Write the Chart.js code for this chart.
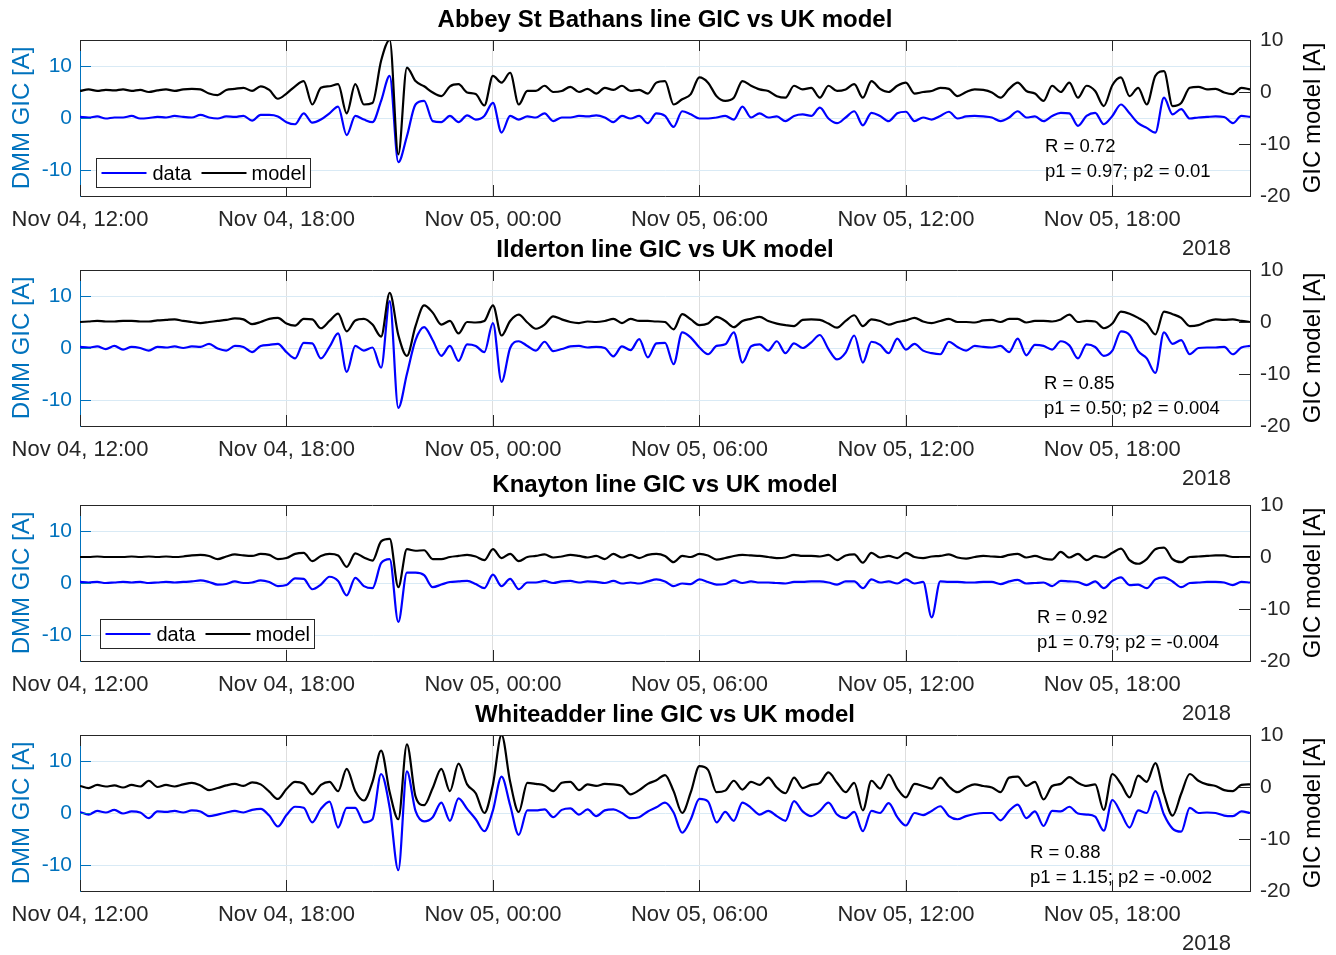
<!DOCTYPE html>
<html>
<head>
<meta charset="utf-8">
<script src="https://cdn.jsdelivr.net/npm/chart.js@4.4.0/dist/chart.umd.min.js"></script>
<style>
  html, body { margin: 0; padding: 0; background: #fff; overflow: hidden; }
  #wrap { position: relative; width: 1336px; height: 955px; }
  .panel { position: absolute; left: 0; width: 1336px; height: 262px; }
</style>
</head>
<body>
<div id="wrap"></div>
<script>
/* ── time axis: hours after Nov 04 12:00, 15-minute samples ── */
const STEP_H = 0.25;
const TIME_TICKS  = [0, 6, 12, 18, 24, 30];
const TIME_LABELS = ['Nov 04, 12:00', 'Nov 04, 18:00', 'Nov 05, 00:00', 'Nov 05, 06:00', 'Nov 05, 12:00', 'Nov 05, 18:00'];
const LEFT_TICKS  = [-10, 0, 10];
const RIGHT_TICKS = [-20, -10, 0, 10];

const SITES   = ['Abbey St Bathans', 'Ilderton', 'Knayton', 'Whiteadder'];
const R_VALS  = ['0.72', '0.85', '0.92', '0.88'];
const P1_VALS = ['0.97', '0.50', '0.79', '1.15'];
const P2_VALS = ['0.01', '0.004', '-0.004', '-0.002'];

/* measured DMM GIC [A] (left axis) */
const abbeyData = [
  0.2,0.1,0.3,-0.1,0.1,0.1,0.4,-0.1,0,0.2, 0.1,0.4,0.2,0.1,0.6,0.1,-0.1,0.3,0.2,0.4,
  -0.5,0.6,0.6,0.3,-0.8,-1.2,0.9,-0.9,-0.3,0.9, 2.2,-3.3,0.4,-0.3,-0.8,3.3,8.1,-8.5,-3.5,2.6,
  3.3,-0.6,-0.8,0.4,-0.8,0.5,
  -0.3,0.4,2.9,-2.8,0.4,-0.3,0.3,0.1,0.9,-0.6, 0.1,0.1,0.4,0.3,0.5,0.1,-0.8,0.4,-0.1,0.4,
  -1.0,0.9,0.4,-1.7,1.3,0.7,-0.1,-0.1,0.1,0.4, -0.3,2.2,0.1,0.9,0.1,0.3,-0.6,0.4,0.7,0.4,
  2.0,-0.1,-1.0,0.1,1.3,
  -1.4,1.0,0.4,-0.6,0.9,1.2,-0.6,0.1,-0.3,0.4, 1.2,-0.1,0.3,0.4,0.3,0.1,-0.6,0.1,1.3,0.1,
  0.3,-0.6,0.4,1.0,0.9,-1.5,0.4,1.0,-1.2,0.4, 2.6,0.9,-1.0,-1.9,-2.8,3.9,0.7,1.7,-0.1,0.1,
  0.2,0.3,0.2,-1.0,0.4,0.2
];
const ildertonData = [
  0.2,0.1,0.3,-0.2,0.4,-0.3,0.2,0,-0.5,0.2, 0.1,0.3,0,0.3,0.2,0.8,-0.1,-0.5,0.4,0.2,
  -0.8,0.4,0.6,0.8,-0.8,-2.0,1.0,0.9,-2.0,0.2, 2.8,-4.6,0.4,-0.5,0.1,-3.8,9.0,-11.5,-5.0,1.5,
  4.0,1.5,-1.5,0.4,-2.5,0.7,
  0.4,-0.8,4.8,-6.5,0,1.3,0.4,-0.5,1.2,-0.6, -0.2,0.3,0.4,0.1,0.2,0,-1.6,0.3,-0.4,1.7,
  -1.8,0.9,1.0,-3.1,3.0,2.0,0.1,-1.2,0.4,0.7, 3.0,-2.8,0.3,0.7,-0.5,1.3,-1.0,0.9,0,1.1,
  2.5,-0.2,-2.2,-0.9,2.4,
  -2.8,1.2,0.6,-1.0,1.8,-0.3,0.8,-0.5,-1.0,-1.2, 1.2,0.2,-0.5,0.4,0.2,0.1,0.4,-0.8,1.8,-1.4,
  0.6,0.4,-0.3,1.3,0.5,-2.0,0.7,0.2,-1.5,-0.5, 3.2,2.5,-0.6,-2.0,-4.8,3.0,0.8,1.5,-1.2,0,
  0.1,0.1,0.2,-1.2,0.1,0.4
];
const knaytonData = [
  0.2,0.1,0.2,0,0.1,0.2,0.1,0.2,0,0.1, 0.2,0.1,0.2,0.3,0.5,0.2,-0.3,-0.2,0.3,0,
  0.1,0.5,0.2,-0.6,-0.4,0.9,0.8,-1.2,-0.3,1.2, 0.4,-2.4,1.0,-0.6,-1.0,3.8,4.6,-7.5,2.0,2.0,
  1.5,-0.8,-0.3,0.2,0.3,0.4,
  -0.2,-1.0,1.6,-0.6,0.8,-1.2,0.1,0.1,0.4,0, 0.3,0.4,0.1,0.3,0.2,0,0.4,-0.1,0.1,-0.1,
  0.3,0.7,0.3,-0.6,-0.1,-0.2,0.7,0.2,-0.3,-0.2, 0.5,0,0.3,0.1,0.1,0,-0.1,0.2,0.2,0.3,
  0.3,0.1,-0.3,0.3,0.3,
  -1.0,0.7,0.1,0.3,-0.1,0.7,-0.1,0.2,-6.6,0.3, 0.2,0.2,0.1,0.1,0.2,0.2,-0.2,0.3,0.6,-0.1,
  0,0.1,-0.6,0.4,0.3,0.2,-0.4,0.3,-1.0,0.4, 1.1,-0.4,-0.3,-1.0,0.7,1.1,0.3,-0.8,0,0.1,
  0.2,0.2,0.1,-0.4,0.2,0.1
];
const whiteadderData = [
  0.2,-0.3,0.4,0.1,0.6,-0.1,0.3,0.1,-1.0,0.3, 0.2,0.4,0.1,0.5,0.3,-0.6,-0.3,0.1,0.4,0.1,
  0.6,0.8,-0.5,-2.6,-0.4,1.2,1.0,-1.8,0.8,2.2, -2.8,1.0,1.0,-1.8,-1.2,7.5,1.0,-11.0,8.0,0.4,
  -1.6,-0.8,2.0,-1.5,2.8,0.8,
  -1.2,-3.5,0.5,7.0,1.5,-4.2,0.5,0.5,0.7,-0.8, 0.6,0.9,-0.3,0.7,-0.6,0.5,0.7,0,-1.0,-0.8,
  0.3,1.1,2.0,0.1,-3.8,-1.2,2.7,2.2,-1.8,0.2, -1.5,2.0,1.0,-0.3,0.4,-0.6,-1.5,2.3,0.3,-0.6,
  0.4,2.0,-0.3,-1.0,0.2,
  -3.5,0.4,0,1.9,-0.8,-2.4,0,-0.4,0.4,1.3, -0.6,-1.2,-0.6,-0.2,0,0,-1.4,0.4,1.6,-1.0,
  0.3,-2.5,0.4,0.3,1.2,-0.1,-0.3,-0.7,-3.4,2.5, 0,-2.8,0.5,0,4.2,-0.3,-3.0,-3.6,1.0,0,
  0.1,0,-0.5,-0.6,0.3,0
];

/* UK model GIC [A] (right axis) */
const abbeyModel = [
  0.2,0.5,0.2,0.4,0.3,0.5,0.2,0.4,0,0.3, 0.5,0.2,0.5,0.6,0.5,-0.3,-0.6,0.4,0.6,0.8,
  0.2,1.1,0.4,-1.3,-0.3,1.1,2.1,-2.4,0.8,1.1, 1.5,-4.1,1.5,-2.4,-2.1,6.0,10,-12,4.7,2.1,
  1.1,-0.1,-0.8,1.1,1.5,-0.1,
  -0.4,-2.6,3.1,1.8,3.7,-2.4,0.2,0.2,1.2,0, 0.2,1.0,0,0.6,-0.3,0.8,0.4,1.2,0.2,0.4,
  -0.3,1.8,2.1,-2.4,-1.4,-0.4,2.8,1.8,-0.8,-1.7, -1.1,2.1,1.2,0.5,0.2,-0.8,-1.1,1.2,0.5,0.8,
  -1.1,1.2,0.2,0.5,1.5,
  -1.1,2.1,0.6,0,1.2,1.8,-0.3,0,0.2,0.8, 0.6,-0.8,0,0.5,0.4,-0.1,-1.1,0.6,1.8,0.2,
  -0.3,-1.7,1.2,0,1.8,-1.1,1.2,0.2,-2.7,1.3, 2.8,-0.8,0.8,-2.4,3.1,4.0,-2.7,-2.1,0.8,1.0,
  0.5,0.6,-0.1,-0.4,0.8,0.5
];
const ildertonModel = [
  0,0.1,0.2,0.1,0.1,0.2,0.2,0.1,0.1,0.3, 0.4,0.5,0.2,0,-0.2,0,0.2,0.4,0.7,0.5,
  -0.4,0,0.6,0.8,-0.3,-0.7,0.6,0.5,-1.2,0.2, 1.6,-1.8,0.3,0.6,-0.5,-2.8,5.6,-2.5,-6.5,-0.8,
  3.2,1.8,-0.5,0.2,-2.2,0,
  -0.1,0.2,3.2,-2.6,0.2,1.4,-0.1,-1.3,-0.5,1.1, 0.5,0,-0.2,0.1,0,0.2,0.6,-0.2,0.6,0.2,
  0.2,0.1,0,-1.4,1.5,0.5,-0.6,-0.3,1.0,0.2, -1.0,0.2,0.6,1.0,0.2,-0.3,-0.6,-0.8,0.4,0.5,
  0.4,-0.3,-1.1,0.2,1.3,
  -0.8,0.5,0.2,-0.5,0,0.3,0.8,0.1,-0.2,0.2, 0.6,0,0,-0.1,0.3,0.4,0,0.6,0.6,-0.1,
  0.2,0.2,0.1,0.5,1.4,0,0.2,0.1,-1.2,-0.3, 2.0,1.6,0.8,-0.3,-2.4,2.0,1.5,0.8,-0.8,-0.6,
  0.1,0.5,0.4,0.5,0.2,0
];
const knaytonModel = [
  0,0,0.1,0,0,0,0.1,0,0.1,0, 0.1,0,0.1,0.3,0.4,0.2,-0.4,0.1,0.5,0.3,
  0.2,0.6,0.4,-0.4,-0.2,0.6,0.8,-0.8,0.2,0.6, 0.3,-1.9,0.7,-0.1,-0.7,3.0,3.5,-5.8,1.5,1.2,
  1.3,-0.4,-0.4,0,0.2,0.4,
  0.1,-0.6,1.5,-0.2,0.6,-0.8,0,0.2,0.5,-0.1, 0.1,0.4,0.2,-0.1,0.2,-0.4,0.6,-0.1,0.4,-0.2,
  0.4,0.6,0.2,-1.0,0.2,0,0.6,0.3,-0.5,-0.2, 0.2,0.4,0.3,0.2,0,-0.2,-0.1,0.4,0.2,0.2,
  0.1,0.4,-0.6,0.3,0.5,
  -1.1,0.8,-0.1,0.2,-0.2,0.8,0,-0.2,0.1,0.2, 0.5,-0.1,-0.3,0,0.2,0.1,0,0.4,0.6,-0.1,
  0.2,-0.3,-0.5,1.0,-0.1,0.6,-0.6,0.2,-0.1,0.8, 1.6,-0.6,-1.3,-0.4,1.5,1.8,-0.4,-1.0,0,0.1,
  0.2,0.3,0.3,0,0,0
];
const whiteadderModel = [
  0.2,-0.2,0.4,0.1,0.3,-0.1,0.4,0.1,1.2,0, 0.4,0.1,0.5,0.8,0.3,-0.6,-0.2,0.3,0.6,0.2,
  0.9,0.5,-0.9,-2.3,-0.4,1.0,0.6,-1.4,0.4,1.0, -0.8,3.5,-0.8,-2.6,1.0,7.0,-1.0,-6.2,8.2,-1.8,
  -3.5,-0.2,3.5,-0.8,4.5,0.5,
  -1.2,-5.0,0.5,10,1.0,-4.8,0.8,0.6,0.3,-0.8, 0.8,1.0,-0.6,0.5,0.2,0.6,0.5,0.2,-1.4,-0.6,
  0.6,1.3,2.3,-0.8,-5.0,-1.0,4.0,3.3,-1.0,-0.7, 1.2,-0.5,1.0,0.4,1.8,-0.1,-1.2,1.8,-0.2,0.4,
  0.8,2.8,0.8,-1.0,0.8,
  -4.5,1.2,-0.3,2.4,-0.3,-2.0,0.6,0.2,-0.3,1.8, 0.1,-1.0,-0.1,0.5,0.2,-0.1,-1.0,1.8,2.0,0.2,
  1.0,-2.4,0.2,0.6,1.9,0.8,0.2,0.5,-4.4,2.5, 0.6,-2.0,2.2,1.0,4.6,-1.3,-5.5,-1.3,2.5,1.2,
  0.5,0.2,-0.6,-0.8,0.4,0.5
];

const DATA_SERIES  = [abbeyData, ildertonData, knaytonData, whiteadderData];
const MODEL_SERIES = [abbeyModel, ildertonModel, knaytonModel, whiteadderModel];

/* ── layout & style ── */
const FONT = '"Liberation Sans", Arial, Helvetica, sans-serif';
const AXIS_BLUE = '#0072BD';
const INK = '#262626';
const PLOT_TOPS = [40, 270, 505, 735];
const TOP_PAD = 40, PLOT_H = 156, CANVAS_H = 262;
const TICK_LEN = 11;
const STATS_POS = [{ x: 1045, dy: 107 }, { x: 1044, dy: 114 }, { x: 1037, dy: 113 }, { x: 1030, dy: 118 }];
const LEGEND_POS = [{ x: 96, dy: 118 }, null, { x: 100, dy: 114 }, null];

const toPoints = arr => arr.map((v, i) => ({ x: i * STEP_H, y: v }));

const decor = {
  id: 'decor',
  afterDraw(chart, args, opts) {
    const { ctx, chartArea: a } = chart;
    const k = opts.panel;
    const line = (x1, y1, x2, y2) => { ctx.beginPath(); ctx.moveTo(x1, y1); ctx.lineTo(x2, y2); ctx.stroke(); };
    ctx.save();
    ctx.lineWidth = 1;

    // top edge of the box
    ctx.strokeStyle = INK;
    line(a.left, a.top + 0.5, a.right, a.top + 0.5);

    // inward tick marks
    const xs = chart.scales.x, yl = chart.scales.y, yr = chart.scales.y1;
    TIME_TICKS.forEach(v => {
      const px = Math.round(xs.getPixelForValue(v)) + 0.5;
      line(px, a.top, px, a.top + TICK_LEN);
      line(px, a.bottom, px, a.bottom - TICK_LEN);
    });
    ctx.strokeStyle = AXIS_BLUE;
    LEFT_TICKS.forEach(v => {
      const py = Math.round(yl.getPixelForValue(v)) + 0.5;
      line(a.left, py, a.left + TICK_LEN, py);
    });
    ctx.strokeStyle = INK;
    RIGHT_TICKS.forEach(v => {
      const py = Math.round(yr.getPixelForValue(v)) + 0.5;
      line(a.right, py, a.right - TICK_LEN, py);
    });

    // title
    ctx.fillStyle = '#000';
    ctx.font = `bold 24px ${FONT}`;
    ctx.textAlign = 'center';
    ctx.textBaseline = 'middle';
    ctx.fillText(`${SITES[k]} line GIC vs UK model`, (a.left + a.right) / 2, a.top - 20);

    // year under the time axis
    ctx.font = `22px ${FONT}`;
    ctx.fillStyle = INK;
    ctx.textAlign = 'right';
    ctx.fillText('2018', 1231, a.top + 209);

    // axis titles
    const mid = (a.top + a.bottom) / 2;
    ctx.font = `24px ${FONT}`;
    ctx.textAlign = 'center';
    ctx.save();
    ctx.translate(22, mid); ctx.rotate(-Math.PI / 2);
    ctx.fillStyle = AXIS_BLUE;
    ctx.fillText('DMM GIC [A]', 0, 0);
    ctx.restore();
    ctx.save();
    ctx.translate(1313, mid); ctx.rotate(-Math.PI / 2);
    ctx.fillStyle = '#000';
    ctx.fillText('GIC model [A]', 0, 0);
    ctx.restore();

    // fit statistics
    const s = STATS_POS[k];
    ctx.font = `18.5px ${FONT}`;
    ctx.fillStyle = '#000';
    ctx.textAlign = 'left';
    ctx.fillText(`R = ${R_VALS[k]}`, s.x, a.top + s.dy);
    ctx.fillText(`p1 = ${P1_VALS[k]}; p2 = ${P2_VALS[k]}`, s.x, a.top + s.dy + 25);

    // legend box
    const lg = LEGEND_POS[k];
    if (lg) {
      const bx = lg.x + 0.5, by = a.top + lg.dy + 0.5, bw = 214, bh = 29, cy = by + bh / 2;
      ctx.fillStyle = '#fff';
      ctx.fillRect(bx, by, bw, bh);
      ctx.strokeStyle = INK;
      ctx.strokeRect(bx, by, bw, bh);
      ctx.lineWidth = 2;
      ctx.strokeStyle = '#0000FF';
      line(bx + 5, cy, bx + 50, cy);
      ctx.strokeStyle = '#000';
      line(bx + 105, cy, bx + 150, cy);
      ctx.font = `20px ${FONT}`;
      ctx.fillStyle = '#000';
      ctx.fillText('data', bx + 56, cy + 1);
      ctx.fillText('model', bx + 155, cy + 1);
    }
    ctx.restore();
  }
};

function makePanel(k) {
  const div = document.createElement('div');
  div.className = 'panel';
  div.style.top = (PLOT_TOPS[k] - TOP_PAD) + 'px';
  const canvas = document.createElement('canvas');
  canvas.width = 1336; canvas.height = CANVAS_H;
  canvas.style.width = '1336px'; canvas.style.height = CANVAS_H + 'px';
  div.appendChild(canvas);
  document.getElementById('wrap').appendChild(div);

  const lineStyle = { borderWidth: 2.2, pointRadius: 0, cubicInterpolationMode: 'monotone' };

  new Chart(canvas, {
    type: 'line',
    data: {
      datasets: [
        { label: 'data', data: toPoints(DATA_SERIES[k]), yAxisID: 'y', borderColor: '#0000FF', order: 1, ...lineStyle },
        { label: 'model', data: toPoints(MODEL_SERIES[k]), yAxisID: 'y1', borderColor: '#000000', order: 0, ...lineStyle }
      ]
    },
    options: {
      responsive: false,
      animation: false,
      layout: { padding: { top: TOP_PAD, left: 0, right: 0, bottom: 0 } },
      plugins: { legend: { display: false }, tooltip: { enabled: false }, decor: { panel: k } },
      scales: {
        x: {
          type: 'linear', min: 0, max: 34,
          afterBuildTicks: s => { s.ticks = TIME_TICKS.map(v => ({ value: v })); },
          afterFit: s => { s.height = CANVAS_H - TOP_PAD - PLOT_H; },
          ticks: { callback: (v, i) => TIME_LABELS[i], color: INK, font: { family: FONT, size: 22 }, padding: 11, maxRotation: 0, autoSkip: false },
          grid: { color: c => (c.tick && c.tick.value === 0 ? 'rgba(0,0,0,0)' : '#dedede'), drawTicks: false },
          border: { color: INK }
        },
        y: {
          position: 'left', min: -15, max: 15,
          afterBuildTicks: s => { s.ticks = LEFT_TICKS.map(v => ({ value: v })); },
          afterFit: s => { s.width = 80; },
          ticks: { color: AXIS_BLUE, font: { family: FONT, size: 21 }, padding: 8 },
          grid: { color: '#d9eaf5', drawTicks: false },
          border: { color: AXIS_BLUE }
        },
        y1: {
          position: 'right', min: -20, max: 10,
          afterBuildTicks: s => { s.ticks = RIGHT_TICKS.map(v => ({ value: v })); },
          afterFit: s => { s.width = 86; },
          ticks: { color: INK, font: { family: FONT, size: 21 }, padding: 10 },
          grid: { display: false, drawTicks: false },
          border: { color: INK }
        }
      }
    },
    plugins: [decor]
  });
}

[0, 1, 2, 3].forEach(makePanel);
</script>
</body>
</html>
